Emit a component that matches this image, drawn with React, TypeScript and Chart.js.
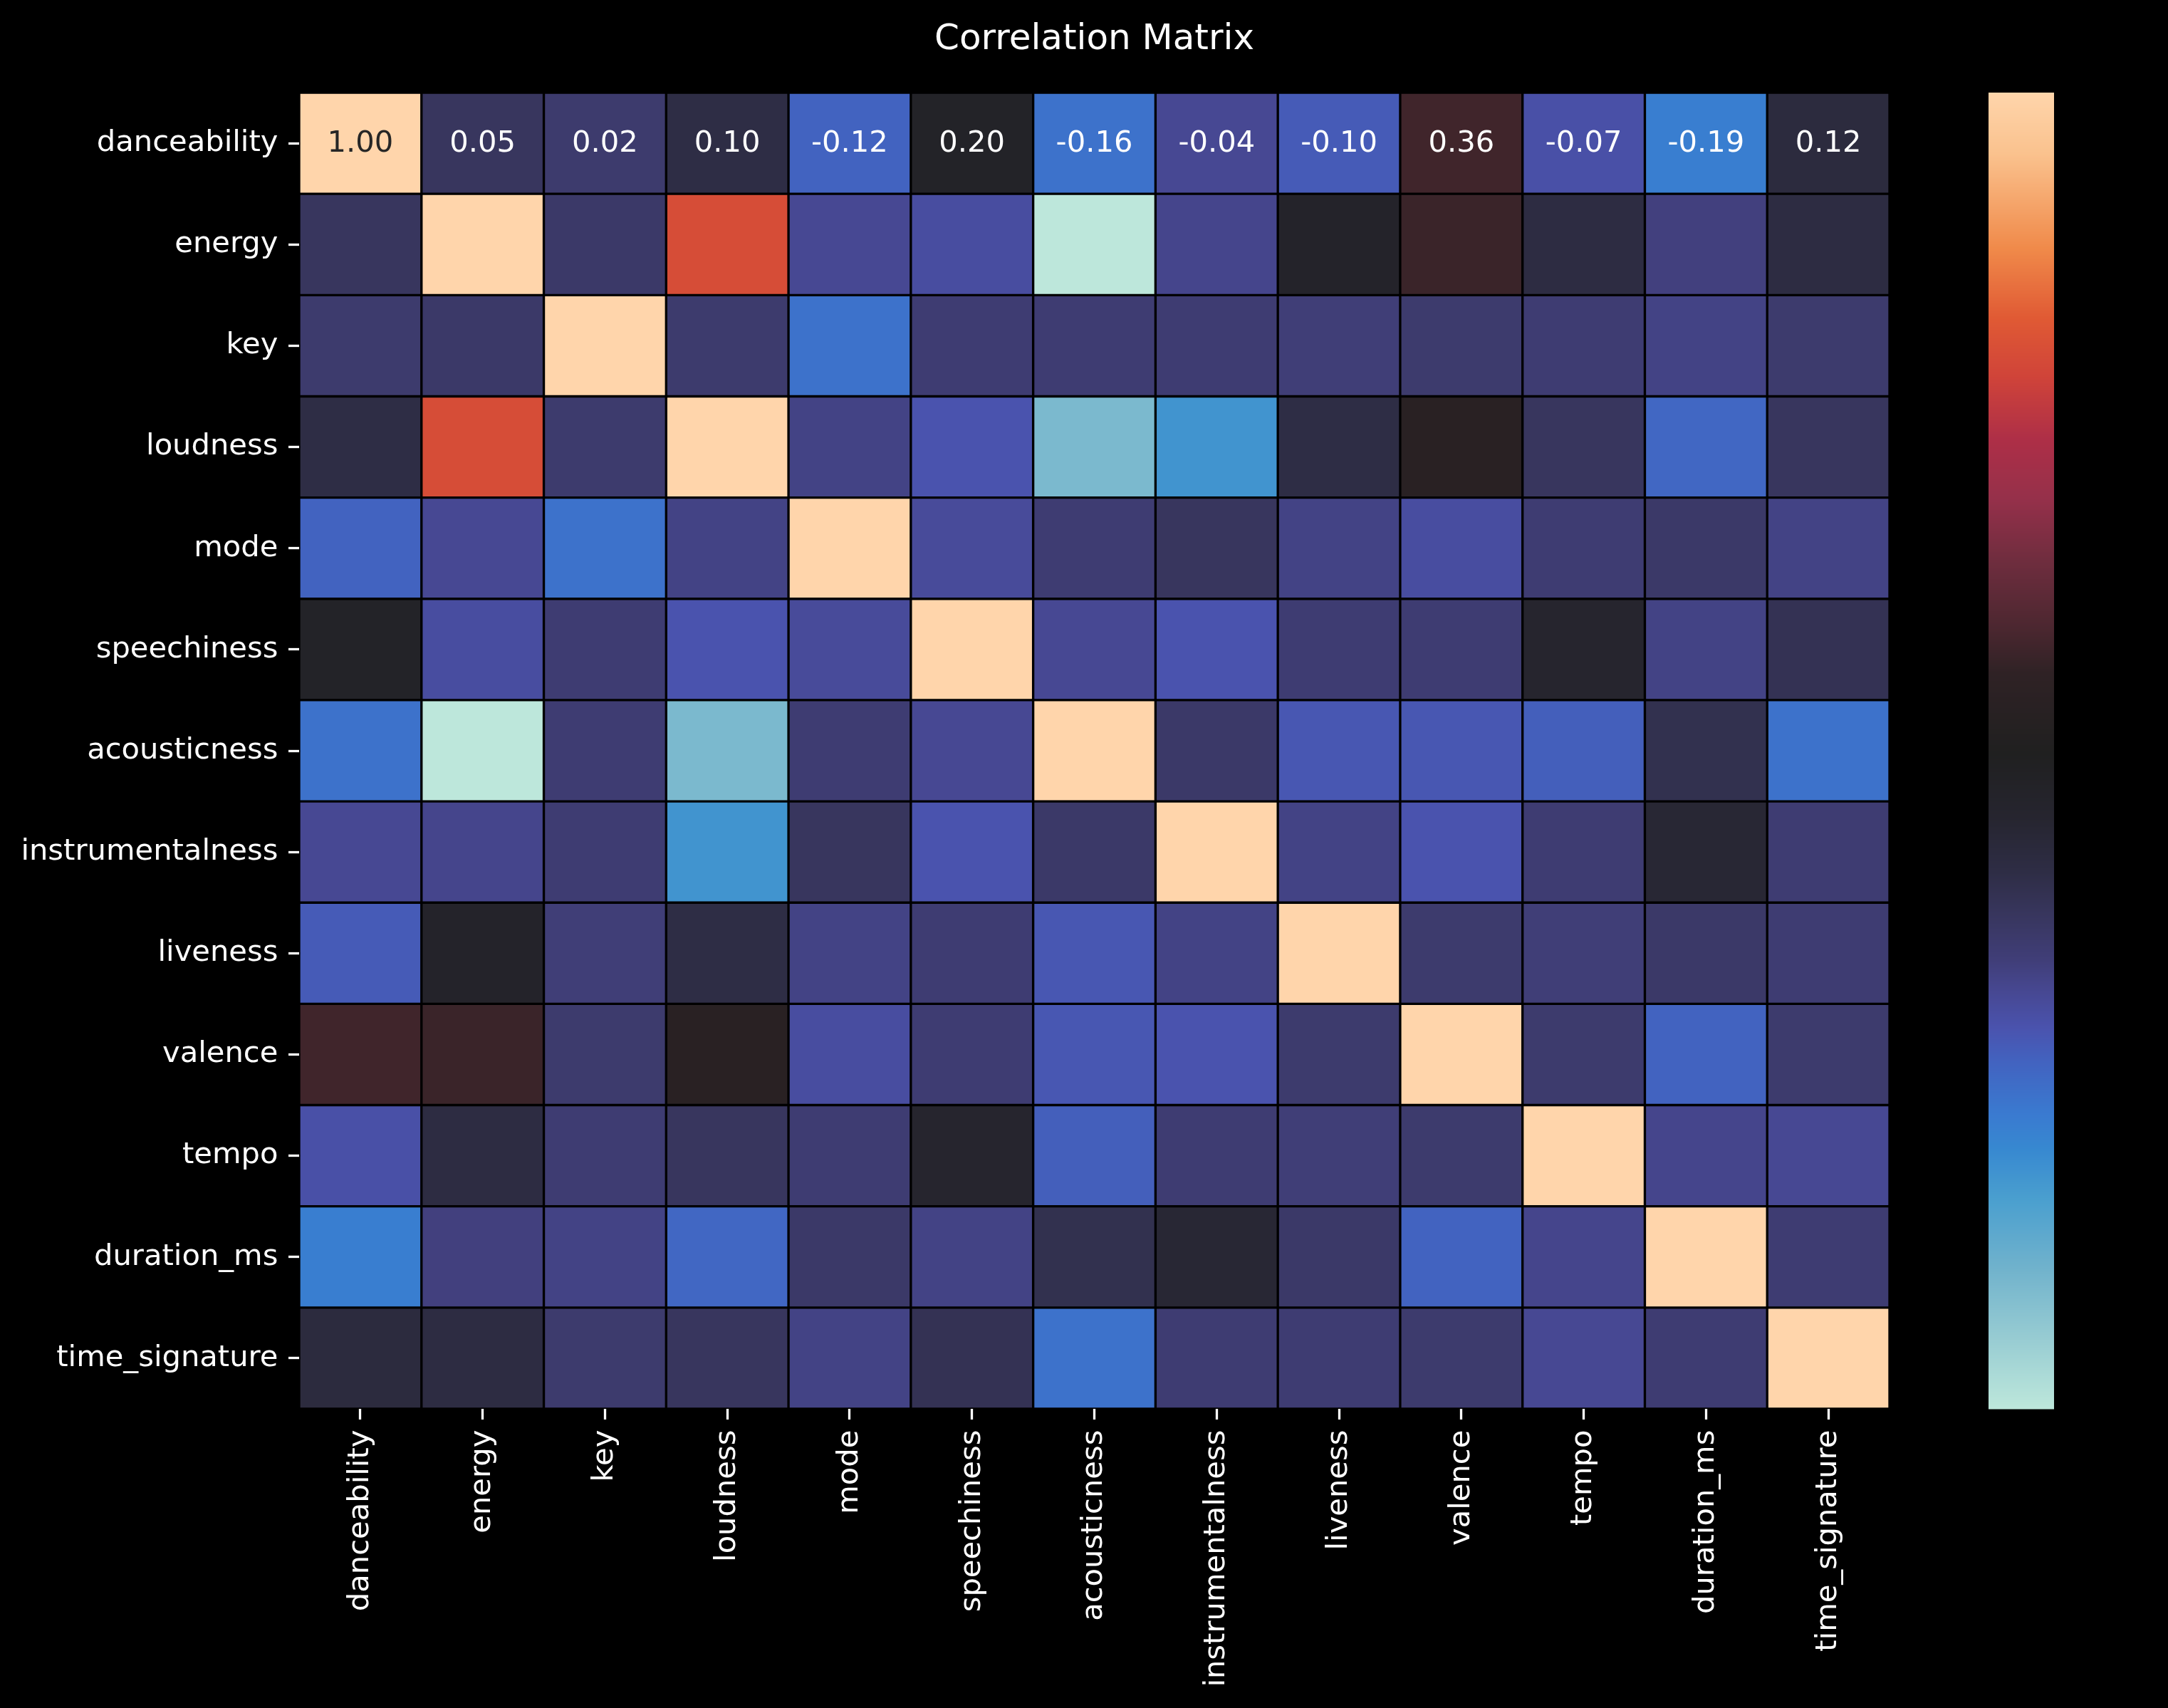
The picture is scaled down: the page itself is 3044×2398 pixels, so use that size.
import React, { useEffect, useRef } from 'react';
import { Chart, registerables } from 'chart.js';

Chart.register(...registerables);

const features = [
  'danceability', 'energy', 'key', 'loudness', 'mode', 'speechiness', 'acousticness',
  'instrumentalness', 'liveness', 'valence', 'tempo', 'duration_ms', 'time_signature',
];

// correlation matrix rows (column order = features)
const danceability = [1.0, 0.05, 0.02, 0.1, -0.12, 0.2, -0.16, -0.04, -0.1, 0.36, -0.07, -0.19, 0.12];
const energy = [0.05, 1.0, 0.03, 0.7, -0.04, -0.06, -0.52, -0.03, 0.19, 0.35, 0.11, -0.01, 0.11];
const key = [0.02, 0.03, 1.0, 0.02, -0.16, 0.01, 0.01, 0.01, 0.0, 0.02, 0.01, -0.02, 0.02];
const loudness = [0.1, 0.7, 0.02, 1.0, -0.02, -0.08, -0.38, -0.25, 0.1, 0.29, 0.05, -0.13, 0.05];
const mode = [-0.12, -0.04, -0.16, -0.02, 1.0, -0.05, 0.01, 0.05, -0.02, -0.06, 0.01, 0.03, -0.02];
const speechiness = [0.2, -0.06, 0.01, -0.08, -0.05, 1.0, -0.04, -0.08, 0.01, 0.01, 0.17, -0.02, 0.07];
const acousticness = [-0.16, -0.52, 0.01, -0.38, 0.01, -0.04, 1.0, 0.03, -0.09, -0.09, -0.11, 0.08, -0.16];
const instrumentalness = [-0.04, -0.03, 0.01, -0.25, 0.05, -0.08, 0.03, 1.0, -0.02, -0.08, 0.01, 0.15, 0.01];
const liveness = [-0.1, 0.19, 0.0, 0.1, -0.02, 0.01, -0.09, -0.02, 1.0, 0.02, 0.0, 0.03, 0.01];
const valence = [0.36, 0.35, 0.02, 0.29, -0.06, 0.01, -0.09, -0.08, 0.02, 1.0, 0.02, -0.12, 0.02];
const tempo = [-0.07, 0.11, 0.01, 0.05, 0.01, 0.17, -0.11, 0.01, 0.0, 0.02, 1.0, -0.03, -0.04];
const duration_ms = [-0.19, -0.01, -0.02, -0.13, 0.03, -0.02, 0.08, 0.15, 0.03, -0.12, -0.03, 1.0, 0.01];
const time_signature = [0.12, 0.11, 0.02, 0.05, -0.02, 0.07, -0.16, 0.01, 0.01, 0.02, -0.04, 0.01, 1.0];

const matrix = [
  danceability, energy, key, loudness, mode, speechiness, acousticness,
  instrumentalness, liveness, valence, tempo, duration_ms, time_signature,
];

// approximate "icefire" colormap stops
const icefireStops: [number, string][] = [
  [0.0, '#bde7db'],
  [0.055, '#96cbd2'],
  [0.107, '#70b2cc'],
  [0.159, '#4a9fcf'],
  [0.198, '#3788d0'],
  [0.224, '#3a7ad0'],
  [0.263, '#4263c0'],
  [0.289, '#4a53ae'],
  [0.316, '#474893'],
  [0.341, '#403e78'],
  [0.375, '#38365e'],
  [0.408, '#2e2d45'],
  [0.45, '#26252f'],
  [0.498, '#202020'],
  [0.559, '#2f2225'],
  [0.594, '#4c2730'],
  [0.643, '#6e2d3e'],
  [0.691, '#95304a'],
  [0.737, '#ae2f47'],
  [0.785, '#d04439'],
  [0.829, '#e05a34'],
  [0.882, '#f08a4a'],
  [0.954, '#fac28e'],
  [1.0, '#ffd5ab'],
];

function hexToRgb(h: string): number[] {
  const n = parseInt(h.slice(1), 16);
  return [(n >> 16) & 255, (n >> 8) & 255, n & 255];
}

function cmapRgb(t: number): number[] {
  const x = Math.max(0, Math.min(1, t));
  for (let i = 1; i < icefireStops.length; i++) {
    const [p1, c1] = icefireStops[i];
    if (x <= p1) {
      const [p0, c0] = icefireStops[i - 1];
      const f = (x - p0) / (p1 - p0);
      const a = hexToRgb(c0);
      const b = hexToRgb(c1);
      return [0, 1, 2].map((k) => Math.round(a[k] + (b[k] - a[k]) * f));
    }
  }
  return hexToRgb(icefireStops[icefireStops.length - 1][1]);
}

function cmap(t: number): string {
  const c = cmapRgb(t);
  return `rgb(${c[0]},${c[1]},${c[2]})`;
}

function luminance(c: number[]): number {
  const lin = c.map((v) => {
    const s = v / 255;
    return s <= 0.03928 ? s / 12.92 : Math.pow((s + 0.055) / 1.055, 2.4);
  });
  return 0.2126 * lin[0] + 0.7152 * lin[1] + 0.0722 * lin[2];
}

const allValues = matrix.flat();
const vmin = Math.min(...allValues);
const vmax = Math.max(...allValues);
const norm = (v: number) => (v - vmin) / (vmax - vmin);

const FONT = 'DejaVu Sans';
const FS = 41.67;

export default function App() {
  const ref = useRef<HTMLCanvasElement | null>(null);

  useEffect(() => {
    if (!ref.current) return;

    const bgPlugin = {
      id: 'bg',
      beforeDraw(chart: any) {
        const { ctx, width, height } = chart;
        ctx.save();
        ctx.fillStyle = '#000000';
        ctx.fillRect(0, 0, width, height);
        ctx.restore();
      },
    };

    const annotPlugin = {
      id: 'annot',
      afterDatasetsDraw(chart: any) {
        const { ctx } = chart;
        const meta = chart.getDatasetMeta(0);
        ctx.save();
        ctx.font = `${FS}px "${FONT}"`;
        ctx.textAlign = 'center';
        ctx.textBaseline = 'alphabetic';
        meta.data.forEach((el: any, j: number) => {
          const v = danceability[j];
          const lum = luminance(cmapRgb(norm(v)));
          ctx.fillStyle = lum > 0.408 ? '#262626' : '#ffffff';
          const cy = (el.y + el.base) / 2;
          ctx.fillText(v.toFixed(2), el.x, cy + 11.5);
        });
        ctx.restore();
      },
    };

    const titleCbarPlugin = {
      id: 'titlecbar',
      afterDraw(chart: any) {
        const { ctx, chartArea } = chart;
        ctx.save();
        ctx.fillStyle = '#ffffff';
        ctx.font = `50px "${FONT}"`;
        ctx.textAlign = 'center';
        ctx.textBaseline = 'alphabetic';
        ctx.fillText('Correlation Matrix', (chartArea.left + chartArea.right) / 2, 69);

        // colorbar
        const x0 = chartArea.right + 139;
        const w = 92;
        const top = chartArea.top;
        const bottom = chartArea.bottom;
        const h = bottom - top;
        for (let y = 0; y < h; y++) {
          const t = 1 - y / (h - 1);
          ctx.fillStyle = cmap(t);
          ctx.fillRect(x0, top + y, w, 1.5);
        }
        ctx.restore();
      },
    };

    const datasets = matrix.map((row, i) => ({
      label: features[i],
      data: row.map(() => [i, i + 1]),
      backgroundColor: row.map((v) => cmap(norm(v))),
      borderColor: '#000000',
      borderWidth: 2,
      borderSkipped: false,
      barPercentage: 1,
      categoryPercentage: 1,
      grouped: false,
    }));

    const chart = new Chart(ref.current, {
      type: 'bar',
      data: { labels: features, datasets: datasets as any },
      options: {
        responsive: false,
        animation: false,
        maintainAspectRatio: false,
        layout: { padding: { top: 130, left: 30, right: 391, bottom: 30 } },
        plugins: {
          legend: { display: false },
          tooltip: { enabled: false },
          title: { display: false },
        },
        scales: {
          x: {
            type: 'category',
            offset: true,
            border: { display: false },
            grid: {
              offset: false,
              drawOnChartArea: false,
              drawTicks: true,
              tickLength: 15,
              tickWidth: 3.3,
              tickColor: '#ffffff',
            },
            ticks: {
              color: '#ffffff',
              font: { family: FONT, size: FS },
              minRotation: 90,
              maxRotation: 90,
              autoSkip: false,
              padding: 14.6,
            },
            afterFit: (s: any) => {
              s.height = 390;
            },
          },
          y: {
            type: 'linear',
            min: 0,
            max: 13,
            reverse: true,
            border: { display: false },
            afterBuildTicks: (s: any) => {
              s.ticks = features.map((_, i) => ({ value: i + 0.5 }));
            },
            grid: {
              drawOnChartArea: false,
              drawTicks: true,
              tickLength: 15,
              tickWidth: 3.3,
              tickColor: '#ffffff',
            },
            ticks: {
              color: '#ffffff',
              font: { family: FONT, size: FS },
              autoSkip: false,
              padding: 14.6,
              callback: (_v: any, idx: number) => features[idx],
            },
            afterFit: (s: any) => {
              s.width = 390;
            },
          },
        },
      } as any,
      plugins: [bgPlugin, annotPlugin, titleCbarPlugin],
    });

    return () => {
      chart.destroy();
    };
  }, []);

  return (
    <div
      style={{
        position: 'fixed',
        left: 0,
        top: 0,
        width: 3044,
        height: 2398,
        background: '#000000',
      }}
    >
      <canvas ref={ref} width={3044} height={2398} style={{ width: 3044, height: 2398, display: 'block' }} />
    </div>
  );
}
